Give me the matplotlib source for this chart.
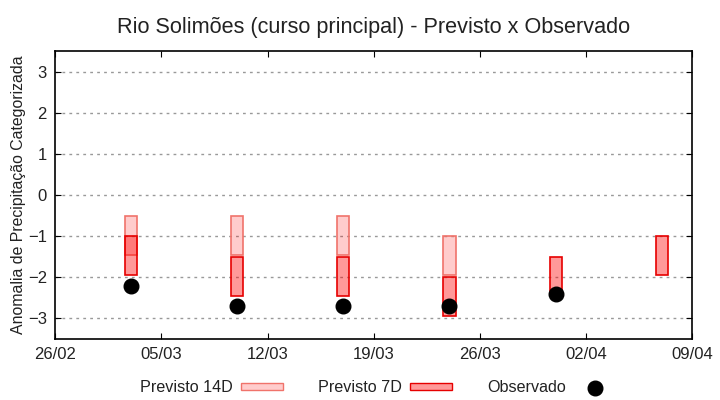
import datetime as dt
import numpy as np
import matplotlib
matplotlib.use('Agg')
import matplotlib.pyplot as plt
import matplotlib.dates as mdates
from matplotlib.patches import Patch
from matplotlib.lines import Line2D

plt.rcParams['font.family'] = ['Liberation Sans', 'DejaVu Sans']

# Data
dates = [dt.date(2025, 3, 3), dt.date(2025, 3, 10), dt.date(2025, 3, 17),
         dt.date(2025, 3, 24), dt.date(2025, 3, 31), dt.date(2025, 4, 7)]
p14_top = [-0.5, -0.5, -0.5, -1.0, np.nan, np.nan]
p14_bot = [-1.45, -1.45, -1.45, -1.95, np.nan, np.nan]
p7_top = [-1.0, -1.5, -1.5, -2.0, -1.5, -1.0]
p7_bot = [-1.95, -2.45, -2.45, -2.95, -2.45, -1.95]
obs = [-2.2, -2.7, -2.7, -2.7, -2.4, np.nan]

tick_dates = [dt.date(2025, 2, 26), dt.date(2025, 3, 5), dt.date(2025, 3, 12),
              dt.date(2025, 3, 19), dt.date(2025, 3, 26), dt.date(2025, 4, 2),
              dt.date(2025, 4, 9)]

c14_face = (1, 0, 0, 0.2)
c14_edge = (0.94, 0.45, 0.42)
c7_face = (1, 0, 0, 0.4)
c7_edge = (0.9, 0, 0)

fig = plt.figure(figsize=(7.2, 4.0), dpi=100)
ax = fig.add_axes([55.3 / 720, 61 / 400, (692 - 55.3) / 720, (339 - 51.3) / 400])

# 14D first, then 7D on top (transparent, so the overlap darkens)
h14 = np.array(p14_bot) - np.array(p14_top)
h7 = np.array(p7_bot) - np.array(p7_top)
ax.bar(dates, h14, bottom=p14_top, width=0.8, color=c14_face,
       edgecolor=c14_edge, linewidth=1.2, zorder=2)
ax.bar(dates, h7, bottom=p7_top, width=0.8, color=c7_face,
       edgecolor=c7_edge, linewidth=1.2, zorder=3)
ax.plot(dates, obs, 'o', color='black', markersize=10.5, linestyle='None', zorder=4)

ax.set_xlim(tick_dates[0], tick_dates[-1])
ax.set_ylim(-3.5, 3.5)
ax.set_xticks(tick_dates)
ax.xaxis.set_major_formatter(mdates.DateFormatter('%d/%m'))
ax.set_yticks(range(-3, 4))
ax.tick_params(direction='in', length=4, top=True, right=True, labelsize=12,
               colors='black', labelcolor='#222222', pad=6)
ax.grid(axis='y', linestyle=(0, (2, 3)), color='#999999', linewidth=1)
ax.set_axisbelow(True)
for s in ax.spines.values():
    s.set_linewidth(1.2)

ax.set_ylabel('Anomalia de Precipitação Categorizada', fontsize=11.4, color='#222222', labelpad=1)
ax.set_title('Rio Solimões (curso principal) - Previsto x Observado', fontsize=15.6,
             color='#222222', pad=13)

handles = [Patch(facecolor=c14_face, edgecolor=c14_edge, label='Previsto 14D'),
           Patch(facecolor=c7_face, edgecolor=c7_edge, label='Previsto 7D'),
           Line2D([], [], marker='o', color='black', markersize=10.5, linestyle='None',
                  label='Observado')]
fig.legend(handles=handles, loc='center', bbox_to_anchor=(378 / 720, 1 - 388 / 400),
           ncol=3, frameon=False, markerfirst=False, fontsize=11.6, handlelength=2.6,
           handleheight=0.3, handletextpad=0.5, columnspacing=2.2, labelcolor='#222222')

plt.savefig('out.png', dpi=100)
